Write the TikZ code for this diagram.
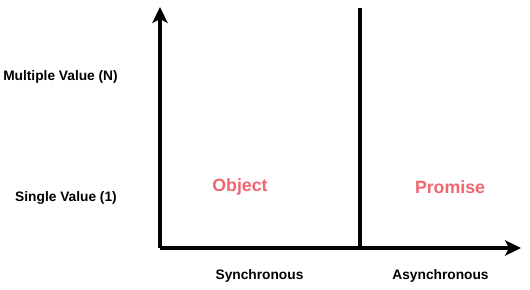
\documentclass[tikz,border=0pt]{standalone}
\usepackage{fontspec}
\setmainfont{Liberation Sans}
\usepackage{xcolor}
\usetikzlibrary{arrows.meta}

\definecolor{quadred}{HTML}{EF6670}

\begin{document}
\begin{tikzpicture}[
  x=0.75pt, y=-0.75pt,
  axis/.style={line width=2.3pt, -{Stealth[length=12pt, width=11.5pt, inset=3pt]}},
  divider/.style={line width=2.3pt},
  lbl/.style={font=\fontsize{10.3pt}{12pt}\selectfont\bfseries, inner sep=0pt},
  quad/.style={font=\fontsize{13.3pt}{15pt}\selectfont\bfseries, text=quadred, inner sep=0pt}
]
\useasboundingbox (0,0) rectangle (530,289);

% axes and the split between sync / async
\coordinate (origin) at (160,248);
\coordinate (ytop)   at (160,7);
\coordinate (xend)   at (521,248);
\coordinate (dtop)   at (360,8);
\coordinate (dbot)   at (360,248);

\draw[axis] (origin) -- (ytop);
\draw[axis] (origin) -- (xend);
\draw[divider] (dtop) -- (dbot);

% row labels
\node[lbl] (multi)  at (60.5,77)  {Multiple Value (N)};
\node[lbl] (single) at (66,198)   {Single Value (1)};

% column labels
\node[lbl] (sync)  at (259.5,276) {Synchronous};
\node[lbl] (async) at (440.5,276) {Asynchronous};

% quadrant entries
\node[quad] (object)  at (240,187) {Object};
\node[quad] (promise) at (450,187) {Promise};

\end{tikzpicture}
\end{document}
